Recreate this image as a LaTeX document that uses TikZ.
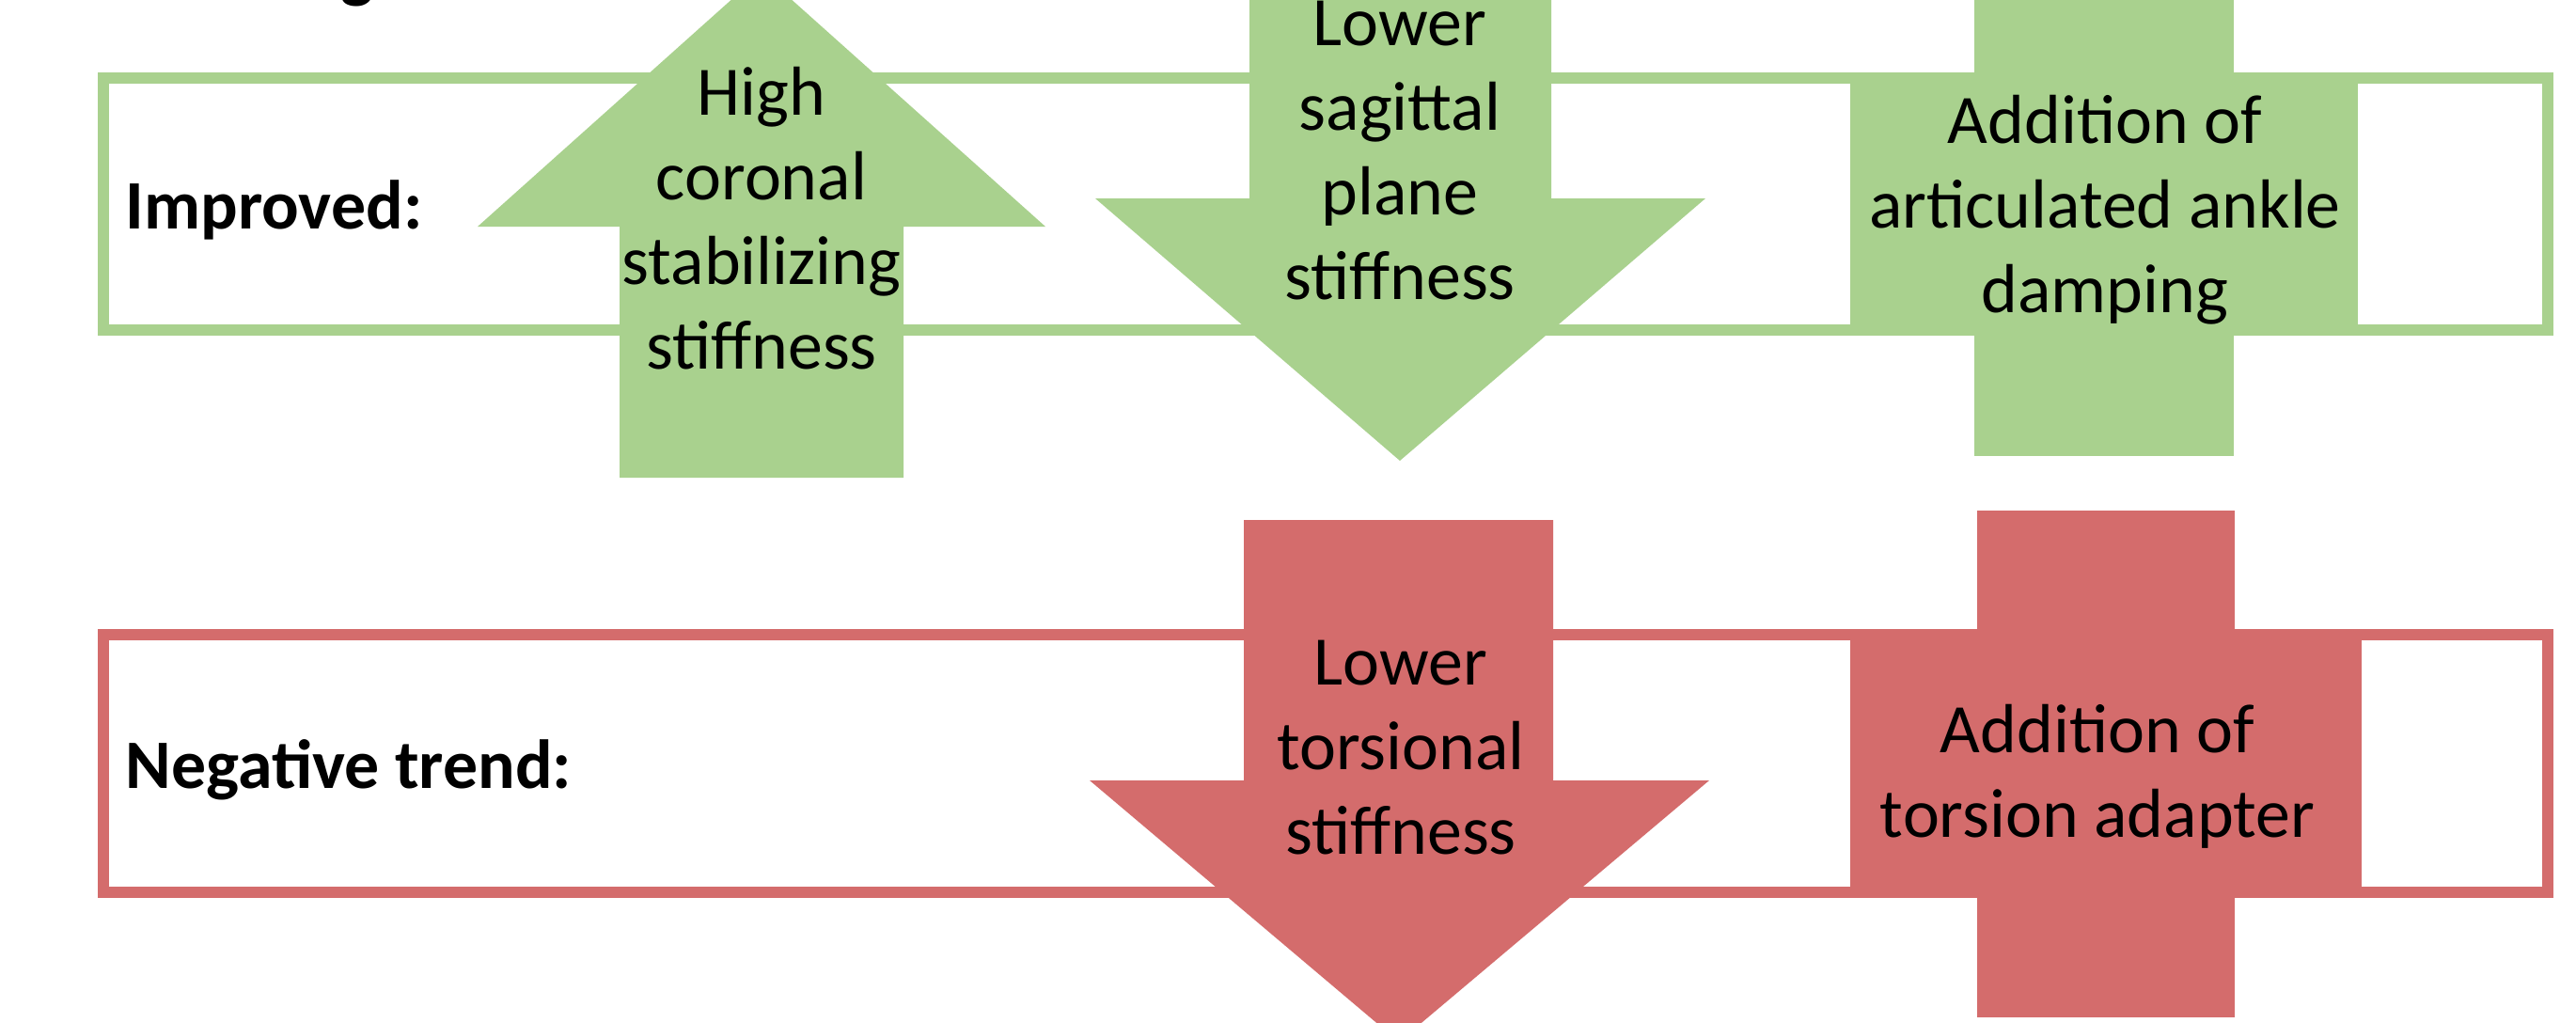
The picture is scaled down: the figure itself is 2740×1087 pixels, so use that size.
\documentclass[tikz,border=0pt]{standalone}
\usepackage{fontspec}
\setmainfont{Carlito}
\definecolor{goodgreen}{HTML}{A9D18E}
\definecolor{badred}{HTML}{D46C6C}
\tikzset{
  frame/.style={line width=0.12cm},
  lbl/.style={inner sep=0pt, font=\fontsize{21}{25.5}\selectfont\bfseries, anchor=base west},
  txt/.style={inner sep=0pt, align=center, anchor=base, font=\fontsize{21}{25.5}\selectfont}
}
\begin{document}
\begin{tikzpicture}[x=0.01cm, y=-0.01cm]
\useasboundingbox (0,0) rectangle (2740,1087);
% title fragment
\node[inner sep=0pt, anchor=base, font=\fontsize{21}{25.5}\selectfont\bfseries] (title) at (380,-6) {g};
% frames
\draw[frame, goodgreen] (110,83) rectangle (2710,351);
\draw[frame, badred] (110,675) rectangle (2710,949);
% green shapes
\fill[goodgreen] (659,508) -- (961,508) -- (961,241) -- (1112,241) -- (810,-29) -- (508,241) -- (659,241) -- cycle;
\fill[goodgreen] (1329,-60) -- (1650,-60) -- (1650,211) -- (1814,211) -- (1489,490) -- (1165,211) -- (1329,211) -- cycle;
\fill[goodgreen] (2100,-51) rectangle (2376,485);
\fill[goodgreen] (1968,77) rectangle (2508,357);
% red shapes
\fill[badred] (1323,553) -- (1652,553) -- (1652,830) -- (1818,830) -- (1488,1108) -- (1159,830) -- (1323,830) -- cycle;
\fill[badred] (2103,543) rectangle (2377,1082);
\fill[badred] (1968,669) rectangle (2512,955);
% labels
\node[lbl] (improved) at (133,243) {Improved:};
\node[lbl] (negative) at (133,838) {Negative trend:};
% texts (anchored at the baseline of the last line)
\node[txt] (coronal) at (810,392) {High\\coronal\\stabilizing\\stiffness};
\node[txt] (sagittal) at (1489,318) {Lower\\sagittal\\plane\\stiffness};
\node[txt] (damping) at (2239,332) {Addition of\\articulated ankle\\damping};
\node[txt] (torsional) at (1490,908) {Lower\\torsional\\stiffness};
\node[txt] (adapter) at (2231,890) {Addition of\\torsion adapter};
\end{tikzpicture}
\end{document}
